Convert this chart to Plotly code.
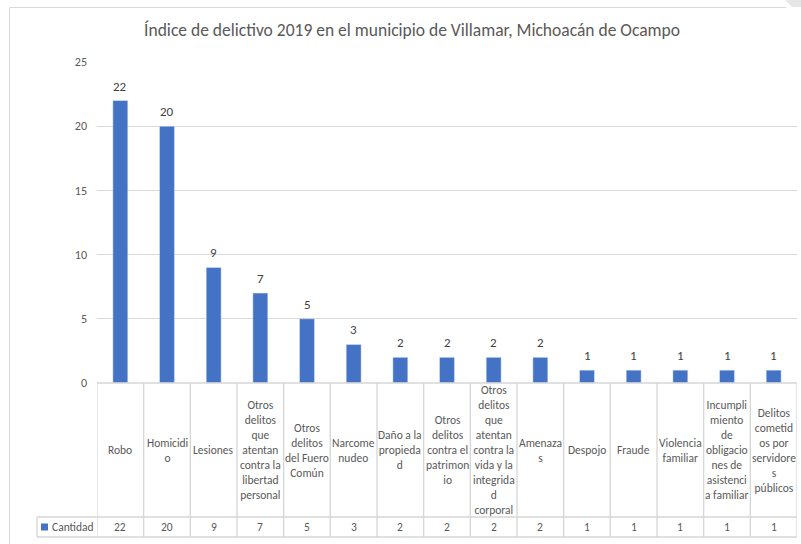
import plotly.graph_objects as go

# ---------------- data ----------------
categories = [
    "Robo",
    "Homicidi<br>o",
    "Lesiones",
    "Otros<br>delitos<br>que<br>atentan<br>contra la<br>libertad<br>personal",
    "Otros<br>delitos<br>del Fuero<br>Común",
    "Narcome<br>nudeo",
    "Daño a la<br>propieda<br>d",
    "Otros<br>delitos<br>contra el<br>patrimon<br>io",
    "Otros<br>delitos<br>que<br>atentan<br>contra la<br>vida y la<br>integrida<br>d<br>corporal",
    "Amenaza<br>s",
    "Despojo",
    "Fraude",
    "Violencia<br>familiar",
    "Incumpli<br>miento<br>de<br>obligacio<br>nes de<br>asistenci<br>a familiar",
    "Delitos<br>cometid<br>os por<br>servidore<br>s<br>públicos",
]
values = [22, 20, 9, 7, 5, 3, 2, 2, 2, 2, 1, 1, 1, 1, 1]
series_name = "Cantidad"
title_text = "Índice de delictivo 2019 en el municipio de Villamar, Michoacán de Ocampo"
y_ticks = [0, 5, 10, 15, 20, 25]

# ---------------- layout helpers ----------------
W, H = 801, 544
L, R, T, B = 97, 4, 62, 161
PH = H - T - B
PW = W - L - R
FONT = "Carlito, Calibri, Lato, sans-serif"
BAR = "#4472C4"
GRID = "#d9d9d9"
TXT = "#595959"


def py(Y):  # pixel y -> paper y
    return (H - B - Y) / PH


def px(X):  # pixel x -> paper x
    return (X - L) / PW


n = len(categories)
fig = go.Figure(
    go.Bar(
        x=categories,
        y=values,
        width=0.32,
        marker=dict(color=BAR),
        name=series_name,
        showlegend=False,
        hoverinfo="y",
    )
)

shapes = []
annotations = []
line = dict(color="#d6d6d6", width=1.3)

# table vertical lines (category boundaries)
for i in range(n + 1):
    shapes.append(dict(type="line", xref="x", yref="paper", x0=i - 0.5, x1=i - 0.5,
                       y0=py(383), y1=py(537), line=line, layer="above"))
# table horizontal lines
shapes.append(dict(type="line", xref="x", yref="paper", x0=-0.5, x1=n - 0.5,
                   y0=py(383), y1=py(383), line=line))
for Y in (517, 537):
    shapes.append(dict(type="line", xref="paper", yref="paper", x0=px(37), x1=1,
                       y0=py(Y), y1=py(Y), line=line))
shapes.append(dict(type="line", xref="paper", yref="paper", x0=px(37), x1=px(37),
                   y0=py(517), y1=py(537), line=line))
# legend key square
shapes.append(dict(type="rect", xref="paper", yref="paper", x0=px(41), x1=px(48),
                   y0=py(523.5), y1=py(530.5), fillcolor=BAR, line=dict(width=0)))
annotations.append(dict(xref="paper", yref="paper", x=px(49.5), y=py(527), text=series_name,
                        showarrow=False, xanchor="left", yanchor="middle",
                        font=dict(family=FONT, size=11.5, color=TXT)))
# outer chart border
border = dict(color="#d9d9d9", width=1)
shapes.append(dict(type="line", xref="paper", yref="paper", x0=px(9.5), x1=px(9.5),
                   y0=py(7.5), y1=py(560), line=border))
shapes.append(dict(type="line", xref="paper", yref="paper", x0=px(9.5), x1=px(786),
                   y0=py(7.5), y1=py(7.5), line=border))
shapes.append(dict(type="path", xref="paper", yref="paper",
                   path=f"M {px(785)} {py(0)} L {px(801)} {py(0)} L {px(801)} {py(7)} L {px(792)} {py(7)} Z",
                   fillcolor="#e6e6e6", line=dict(width=0)))

for i, (c, v) in enumerate(zip(categories, values)):
    # data labels over bars
    annotations.append(dict(x=c, y=v, xref="x", yref="y", text=str(v), showarrow=False,
                            yanchor="middle", yshift=14.5,
                            font=dict(family=FONT, size=13, color="#404040")))
    # category cell text
    annotations.append(dict(x=i, y=py(450), xref="x", yref="paper", text=c, showarrow=False,
                            yanchor="middle", xanchor="center", align="center",
                            font=dict(family=FONT, size=11.5, color=TXT)))
    # value cell
    annotations.append(dict(x=i, y=py(527), xref="x", yref="paper", text=str(v), showarrow=False,
                            yanchor="middle", font=dict(family=FONT, size=11.5, color=TXT)))

fig.update_layout(
    width=W, height=H,
    margin=dict(l=L, r=R, t=T, b=B),
    paper_bgcolor="white", plot_bgcolor="white",
    title=dict(text=title_text, x=412 / W, xanchor="center", y=1 - 30 / H, yanchor="middle",
               font=dict(family=FONT, size=17.5, color=TXT)),
    xaxis=dict(type="category", range=[-0.5, n - 0.5], showticklabels=False,
               showgrid=False, zeroline=False, showline=False, fixedrange=True),
    yaxis=dict(range=[0, 25], tickvals=y_ticks, showgrid=True, gridcolor=GRID, gridwidth=1,
               zeroline=False, showline=False, ticklabelstandoff=9,
               tickfont=dict(family=FONT, size=12, color=TXT)),
    shapes=shapes,
    annotations=annotations,
)

fig.write_html("out.html", config={"displayModeBar": False},
               post_script="document.body.style.margin='0px';document.body.style.overflow='hidden';")
